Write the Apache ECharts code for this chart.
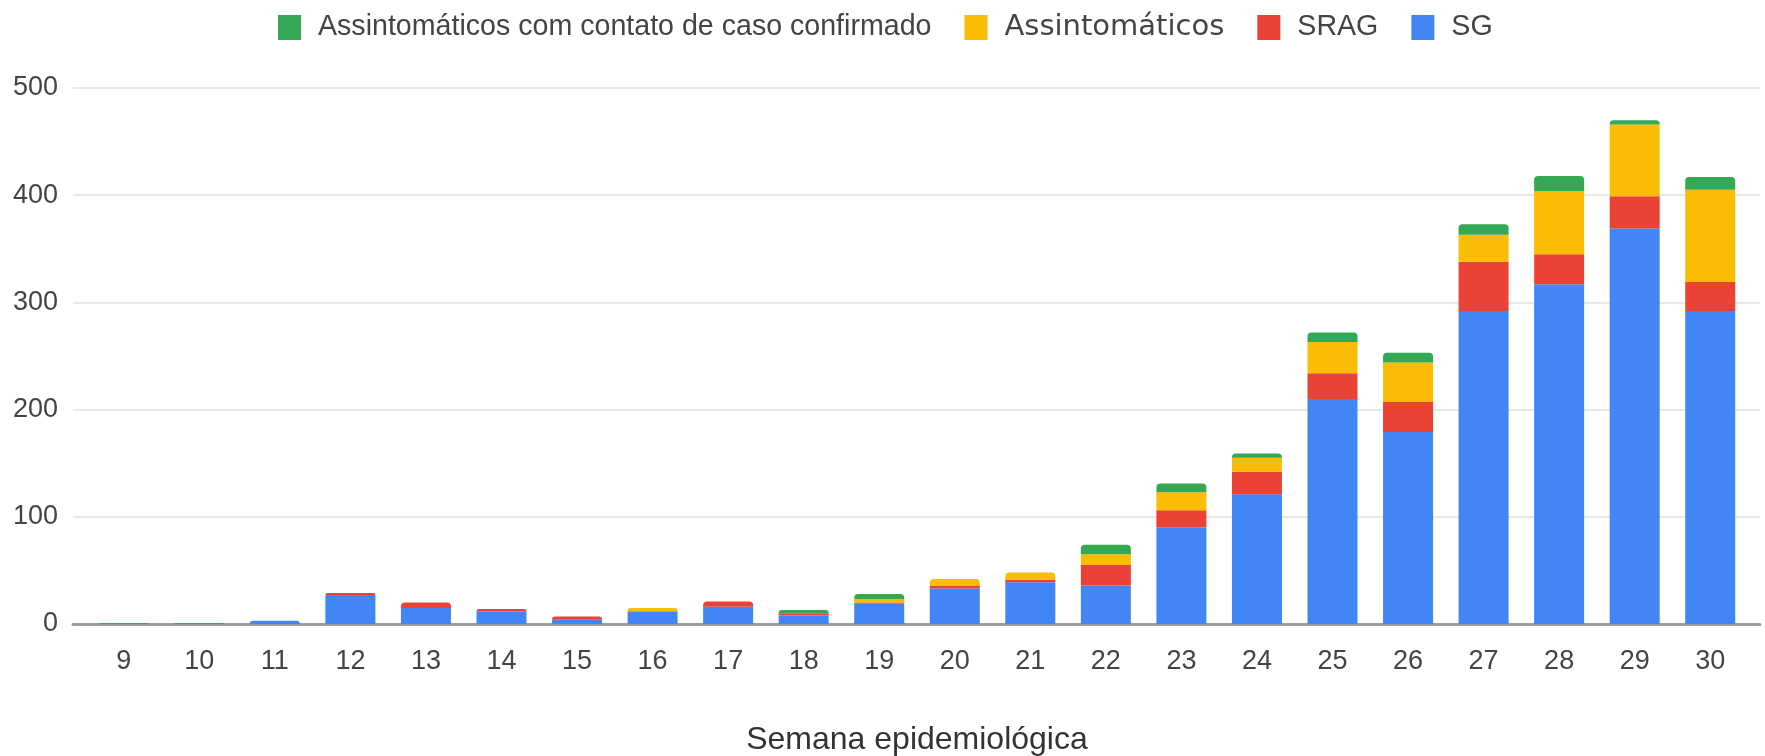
<!DOCTYPE html>
<html>
<head>
<meta charset="utf-8">
<script src="https://cdn.jsdelivr.net/npm/echarts@6/dist/echarts.min.js"></script>
<style>
  html, body { margin: 0; padding: 0; background: #fff; }
  #chart { width: 1765px; height: 756px; }
</style>
</head>
<body>
<div id="chart"></div>
<script>
// semanas epidemiologicas
let semanas = ['9', '10', '11', '12', '13', '14', '15', '16', '17', '18', '19', '20', '21', '22', '23', '24', '25', '26', '27', '28', '29', '30']
let sg = [1, 1, 3, 27, 15, 12, 4, 12, 16, 8, 19, 33, 39, 36, 90, 121, 210, 179, 292, 317, 369, 292]
let srag = [0, 0, 0, 2, 5, 2, 3, 0, 5, 2, 1, 3, 2, 19, 16, 21, 24, 28, 46, 28, 30, 27]
let assint = [0, 0, 0, 0, 0, 0, 0, 3, 0, 0, 3, 6, 7, 10, 17, 13, 29, 37, 25, 59, 67, 86]
let assintContato = [0, 0, 0, 0, 0, 0, 0, 0, 0, 3, 5, 0, 0, 9, 8, 4, 9, 9, 10, 14, 4, 12]
let yTicks = [0, 100, 200, 300, 400, 500]

let nomes = ['SG', 'SRAG', 'Assintomáticos', 'Assintomáticos com contato de caso confirmado']
let cores = ['#4285F4', '#EA4335', '#FBBC04', '#34A853']
let valores = [sg, srag, assint, assintContato]
let fonte = 'Arial, "Liberation Sans", sans-serif'

// o segmento de cima de cada coluna tem cantos arredondados
let topo = semanas.map(function (s, i) {
  let t = 0
  valores.forEach(function (v, k) {
    if (v[i] > 0) t = k
  })
  return t
})

let series = valores.map(function (v, k) {
  return {
    name: nomes[k],
    type: 'bar',
    stack: 'total',
    barWidth: 50,
    xAxisIndex: 0,
    yAxisIndex: 0,
    itemStyle: { color: cores[k] },
    data: v.map(function (val, i) {
      let item = { value: val }
      if (topo[i] === k) item.itemStyle = { borderRadius: [4, 4, 0, 0] }
      return item
    })
  }
})

// legenda na ordem inversa; o item amarelo aparece mais largo na figura
let legendaItens = nomes.slice().reverse().map(function (n) {
  if (n === 'Assintomáticos') {
    return { name: n, textStyle: { fontFamily: '"DejaVu Sans", sans-serif', fontSize: 29 } }
  }
  return { name: n }
})

let chart = echarts.init(document.getElementById('chart'))
chart.setOption({
  animation: false,
  color: cores,
  textStyle: { fontFamily: fonte },
  legend: {
    data: legendaItens,
    left: 273,
    top: 8,
    itemWidth: 23,
    itemHeight: 25,
    itemGap: 33,
    icon: 'rect',
    textStyle: { fontSize: 28.6, color: '#444', padding: [0, 0, 0, 12], fontFamily: fonte }
  },
  grid: [
    { left: 86, right: 17, top: 88, bottom: 132, outerBoundsMode: 'none' },
    { left: 73, right: 5, top: 88, bottom: 132, outerBoundsMode: 'none' }
  ],
  xAxis: [{
    type: 'category',
    gridIndex: 0,
    data: semanas,
    axisLine: { show: false },
    axisTick: { show: false },
    axisLabel: { fontSize: 27, color: '#444', margin: 24 },
    name: 'Semana epidemiológica',
    nameLocation: 'middle',
    nameGap: 116,
    nameMoveOverlap: false,
    nameTextStyle: { fontSize: 32, lineHeight: 30, verticalAlign: 'middle', color: '#333', fontFamily: fonte }
  }, {
    type: 'value',
    gridIndex: 1,
    min: 0,
    max: 1,
    axisLine: { show: true, lineStyle: { color: '#9e9e9e', width: 3 } },
    axisTick: { show: false },
    axisLabel: { show: false },
    splitLine: { show: false }
  }],
  yAxis: [{
    type: 'value',
    gridIndex: 0,
    min: 0,
    max: 500,
    interval: 100,
    axisLabel: { show: false },
    splitLine: { show: false }
  }, {
    type: 'value',
    gridIndex: 1,
    min: yTicks[0],
    max: yTicks[yTicks.length - 1],
    interval: 100,
    axisLine: { show: false },
    axisTick: { show: false },
    axisLabel: { fontSize: 27, color: '#444', margin: 15 },
    splitLine: { lineStyle: { color: '#e8e8e8', width: 2 } }
  }],
  series: series
})
</script>
</body>
</html>
